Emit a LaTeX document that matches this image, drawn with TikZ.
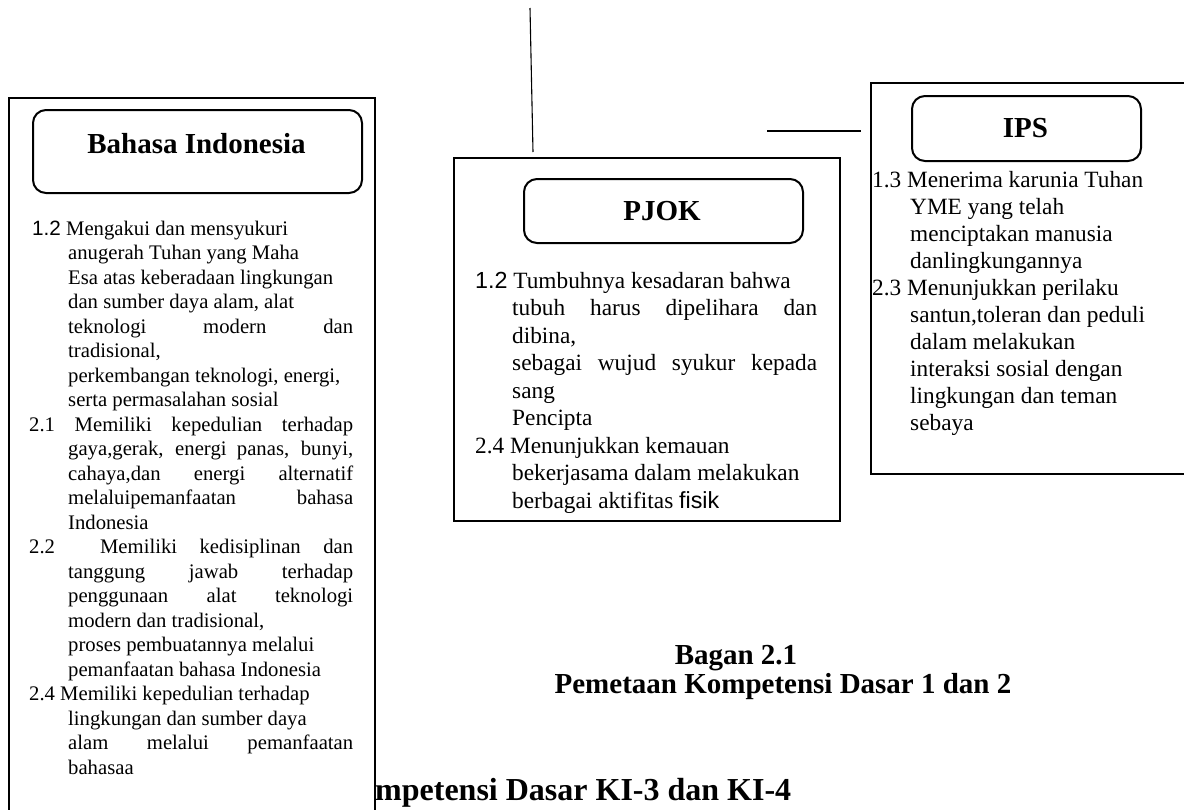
\documentclass[tikz,border=0pt]{standalone}
\usepackage{fontspec}
\setmainfont{Liberation Serif}
\newfontfamily\arialfont{Liberation Sans}
\newcommand\jline[2]{\makebox[#1][s]{#2}}
\begin{document}
\begin{tikzpicture}[x=1pt,y=-1pt,
  outerbox/.style={draw, line width=2.2pt, fill=white, anchor=north west, inner sep=0pt},
  titlebox/.style={draw, line width=2pt, rounded corners=13pt, anchor=north west, inner sep=0pt},
  heading/.style={anchor=base, inner sep=0pt, font=\fontsize{29}{32}\selectfont\bfseries},
  smalltxt/.style={anchor=base west, inner sep=0pt, font=\fontsize{20.7}{24.5}\selectfont},
  bigtxt/.style={anchor=base west, inner sep=0pt, font=\fontsize{23.3}{27}\selectfont},
  caption/.style={anchor=base, inner sep=0pt, font=\fontsize{29}{32}\selectfont\bfseries},
  thinline/.style={line width=1.1pt}]
\useasboundingbox (0,0) rectangle (1184,809);
\clip (0,0) rectangle (1184,809);

% partly covered heading at the bottom
\node[anchor=base west, inner sep=0pt, font=\fontsize{32}{35}\selectfont\bfseries] (ki34) at (375,800) {mpetensi Dasar KI-3 dan KI-4};

% caption
\node[caption] (bagan) at (736,664) {Bagan 2.1};
\node[caption] (pemetaan) at (783,693) {Pemetaan Kompetensi Dasar 1 dan 2};

% loose connector lines
\coordinate (vtop) at (530,8);
\coordinate (vbot) at (533,152);
\draw[thinline] (vtop) -- (vbot);
\coordinate (hleft) at (767,131);
\coordinate (hright) at (861,131);
\draw[thinline] (hleft) -- (hright);

% ---------------- Bahasa Indonesia ----------------
\node[outerbox, minimum width=366pt, minimum height=760pt] (bi) at (8,97) {};
\node[titlebox, minimum width=329pt, minimum height=83pt] (bihead) at (32,109) {};
\node[heading] (bititle) at (196.5,153) {Bahasa Indonesia};

\node[smalltxt] (b0) at (32,235) {{\arialfont 1.2} Mengakui dan mensyukuri};
\node[smalltxt] (b1) at (68,259.5) {anugerah Tuhan yang Maha};
\node[smalltxt] (b2) at (68,284) {Esa atas keberadaan lingkungan};
\node[smalltxt] (b3) at (68,308.5) {dan sumber daya alam, alat};
\node[smalltxt] (b4) at (68,333) {\jline{285pt}{teknologi modern dan}};
\node[smalltxt] (b5) at (68,357.5) {tradisional,};
\node[smalltxt] (b6) at (68,382) {perkembangan teknologi, energi,};
\node[smalltxt] (b7) at (68,406.5) {serta permasalahan sosial};
\node[smalltxt] (b8) at (29,431) {\jline{324pt}{2.1 Memiliki kepedulian terhadap}};
\node[smalltxt] (b9) at (68,455.5) {\jline{285pt}{gaya,gerak, energi panas, bunyi,}};
\node[smalltxt] (b10) at (68,480) {\jline{285pt}{cahaya,dan energi alternatif}};
\node[smalltxt] (b11) at (68,504.5) {\jline{285pt}{melaluipemanfaatan bahasa}};
\node[smalltxt] (b12) at (68,529) {Indonesia};
\node[smalltxt] (b13) at (29,553.5) {\jline{324pt}{2.2 \ Memiliki kedisiplinan dan}};
\node[smalltxt] (b14) at (68,578) {\jline{285pt}{tanggung jawab terhadap}};
\node[smalltxt] (b15) at (68,602.5) {\jline{285pt}{penggunaan alat teknologi}};
\node[smalltxt] (b16) at (68,627) {modern dan tradisional,};
\node[smalltxt] (b17) at (68,651.5) {proses pembuatannya melalui};
\node[smalltxt] (b18) at (68,676) {pemanfaatan bahasa Indonesia};
\node[smalltxt] (b19) at (29,700.5) {2.4 Memiliki kepedulian terhadap};
\node[smalltxt] (b20) at (68,725) {lingkungan dan sumber daya};
\node[smalltxt] (b21) at (68,749.5) {\jline{285pt}{alam melalui pemanfaatan}};
\node[smalltxt] (b22) at (68,774) {bahasaa};

% ---------------- PJOK ----------------
\node[outerbox, minimum width=386pt, minimum height=363pt] (pj) at (453,157) {};
\node[titlebox, minimum width=279pt, minimum height=64pt] (pjhead) at (523,178) {};
\node[heading] (pjtitle) at (662,220) {PJOK};

\node[bigtxt] (p0) at (475,288) {{\arialfont 1.2} Tumbuhnya kesadaran bahwa};
\node[bigtxt] (p1) at (512,315.5) {\jline{305pt}{tubuh harus dipelihara dan}};
\node[bigtxt] (p2) at (512,343) {dibina,};
\node[bigtxt] (p3) at (512,370.5) {\jline{305pt}{sebagai wujud syukur kepada}};
\node[bigtxt] (p4) at (512,398) {sang};
\node[bigtxt] (p5) at (512,425.5) {Pencipta};
\node[bigtxt] (p6) at (475,453) {2.4 Menunjukkan kemauan};
\node[bigtxt] (p7) at (512,480.5) {bekerjasama dalam melakukan};
\node[bigtxt] (p8) at (512,508) {berbagai aktifitas {\arialfont fisik}};

% ---------------- IPS ----------------
\node[outerbox, minimum width=340pt, minimum height=391pt] (ips) at (870,82) {};
\node[titlebox, minimum width=229pt, minimum height=65pt] (ipshead) at (911,95) {};
\node[heading] (ipstitle) at (1025.5,137) {IPS};

\node[bigtxt] (i0) at (872,187) {1.3 Menerima karunia Tuhan};
\node[bigtxt] (i1) at (910,214) {YME yang telah};
\node[bigtxt] (i2) at (910,241) {menciptakan manusia};
\node[bigtxt] (i3) at (910,268) {danlingkungannya};
\node[bigtxt] (i4) at (872,295) {2.3 Menunjukkan perilaku};
\node[bigtxt] (i5) at (910,322) {santun,toleran dan peduli};
\node[bigtxt] (i6) at (910,349) {dalam melakukan};
\node[bigtxt] (i7) at (910,376) {interaksi sosial dengan};
\node[bigtxt] (i8) at (910,403) {lingkungan dan teman};
\node[bigtxt] (i9) at (910,430) {sebaya};
\end{tikzpicture}
\end{document}
